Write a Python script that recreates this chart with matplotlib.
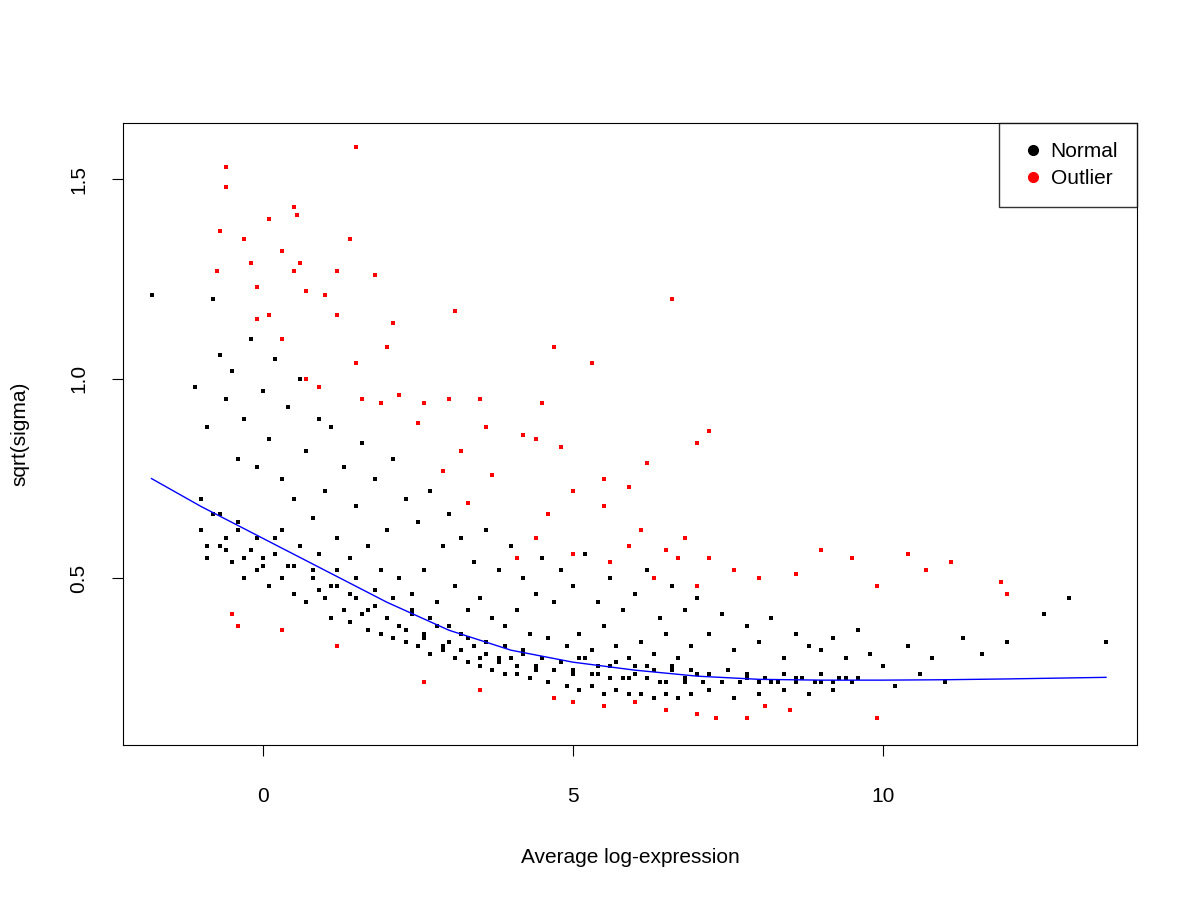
import matplotlib
matplotlib.use("Agg")
import matplotlib.pyplot as plt
from matplotlib.lines import Line2D

# trend
trend_x = [-1.8, -1.0, 0.0, 1.0, 2.0, 3.0, 4.0, 5.0, 6.0, 7.0, 8.0, 9.0, 10.0, 11.0, 12.0, 13.6]
trend_y = [0.75, 0.68, 0.60, 0.52, 0.44, 0.37, 0.32, 0.29, 0.27, 0.255, 0.247, 0.245, 0.245, 0.246, 0.248, 0.252]

# normal genes (hand-read sample of the black cloud)
normal_x = [
 -1.8,-1.1,-1.0,-0.9,-0.9,-0.8,-0.8,-0.7,-0.7,-0.6,-0.6,-0.5,-0.5,-0.4,-0.4,-0.3,-0.3,-0.2,-0.2,-0.1,-0.1,
 0.0,0.0,0.1,0.1,0.2,0.2,0.3,0.3,0.4,0.4,0.5,0.5,0.6,0.6,0.7,0.7,0.8,0.8,0.9,0.9,
 1.0,1.0,1.1,1.1,1.2,1.2,1.3,1.3,1.4,1.4,1.5,1.5,1.6,1.6,1.7,1.7,1.8,1.8,1.9,1.9,
 2.0,2.0,2.1,2.1,2.2,2.2,2.3,2.3,2.4,2.4,2.5,2.5,2.6,2.6,2.7,2.7,2.8,2.8,2.9,2.9,
 3.0,3.0,3.1,3.1,3.2,3.2,3.3,3.3,3.4,3.4,3.5,3.5,3.6,3.6,3.7,3.7,3.8,3.8,3.9,3.9,
 4.0,4.0,4.1,4.1,4.2,4.2,4.3,4.3,4.4,4.4,4.5,4.5,4.6,4.6,4.7,4.7,4.8,4.8,4.9,4.9,
 5.0,5.0,5.1,5.1,5.2,5.2,5.3,5.3,5.4,5.4,5.5,5.5,5.6,5.6,5.7,5.7,5.8,5.8,5.9,5.9,
 6.0,6.0,6.1,6.1,6.2,6.2,6.3,6.3,6.4,6.4,6.5,6.5,6.6,6.6,6.7,6.7,6.8,6.8,6.9,6.9,
 7.0,7.0,7.2,7.2,7.4,7.4,7.6,7.6,7.8,7.8,8.0,8.0,8.2,8.2,8.4,8.4,8.6,8.6,8.8,8.8,
 9.0,9.0,9.2,9.2,9.4,9.4,9.6,9.8,10.0,10.2,10.4,10.6,10.8,11.0,11.3,11.6,12.0,12.6,13.0,13.6,
 -1.0,-0.7,-0.4,-0.1,0.2,0.5,0.8,1.1,1.4,1.7,2.0,2.3,2.6,2.9,3.2,3.5,3.8,4.1,4.4,4.7,
 5.0,5.3,5.6,5.9,6.2,6.5,6.8,7.1,7.4,7.7,8.0,8.3,8.6,8.9,9.2,9.5,
 -0.9,-0.6,-0.3,0.0,0.3,0.6,0.9,1.2,1.5,1.8,2.1,2.4,2.7,3.0,3.3,3.6,3.9,4.2,4.5,4.8,
 5.1,5.4,5.7,6.0,6.3,6.6,6.9,7.2,7.5,7.8,8.1,8.4,8.7,9.0,9.3,9.6,
]
normal_y = [
 1.21,0.98,0.62,0.88,0.55,1.20,0.66,1.06,0.58,0.95,0.60,1.02,0.54,0.80,0.62,0.90,0.50,1.10,0.57,0.78,0.52,
 0.97,0.55,0.85,0.48,1.05,0.60,0.75,0.50,0.93,0.53,0.70,0.46,1.00,0.58,0.82,0.44,0.65,0.50,0.90,0.47,
 0.72,0.45,0.88,0.40,0.60,0.48,0.78,0.42,0.55,0.39,0.68,0.45,0.84,0.41,0.58,0.37,0.75,0.43,0.52,0.36,
 0.62,0.40,0.80,0.35,0.50,0.38,0.70,0.34,0.46,0.41,0.64,0.33,0.52,0.36,0.72,0.31,0.44,0.38,0.58,0.32,
 0.66,0.34,0.48,0.30,0.60,0.36,0.42,0.29,0.54,0.33,0.45,0.28,0.62,0.31,0.40,0.27,0.52,0.30,0.38,0.26,
 0.58,0.30,0.42,0.26,0.50,0.32,0.36,0.25,0.46,0.28,0.55,0.30,0.35,0.24,0.44,0.27,0.52,0.29,0.33,0.23,
 0.48,0.27,0.36,0.22,0.56,0.30,0.32,0.23,0.44,0.26,0.38,0.21,0.50,0.28,0.33,0.22,0.42,0.25,0.30,0.21,
 0.46,0.26,0.34,0.21,0.52,0.28,0.31,0.20,0.40,0.24,0.36,0.21,0.48,0.27,0.30,0.20,0.42,0.25,0.33,0.21,
 0.45,0.26,0.36,0.22,0.41,0.24,0.32,0.20,0.38,0.25,0.34,0.21,0.40,0.24,0.30,0.22,0.36,0.25,0.33,0.21,
 0.32,0.24,0.35,0.22,0.30,0.25,0.37,0.31,0.28,0.23,0.33,0.26,0.30,0.24,0.35,0.31,0.34,0.41,0.45,0.34,
 0.70,0.66,0.64,0.60,0.56,0.53,0.52,0.48,0.46,0.42,0.40,0.37,0.35,0.33,0.32,0.30,0.29,0.28,0.27,0.27,
 0.26,0.26,0.25,0.25,0.25,0.24,0.24,0.24,0.24,0.24,0.24,0.24,0.24,0.24,0.24,0.24,
 0.58,0.57,0.55,0.53,0.62,0.58,0.56,0.52,0.50,0.47,0.45,0.42,0.40,0.38,0.35,0.34,0.33,0.31,0.30,0.29,
 0.30,0.28,0.29,0.28,0.27,0.28,0.27,0.26,0.27,0.26,0.25,0.26,0.25,0.26,0.25,0.25,
]

# outliers (red)
outlier_x = [-0.6,-0.6,-0.7,-0.75,-0.3,-0.2,-0.1,0.1,0.3,0.5,0.55,0.6,0.5,0.7,1.0,1.2,1.2,1.4,1.5,1.8,2.1,2.0,
 3.1,4.7,5.3,6.6,0.3,0.1,-0.1,0.7,0.9,1.5,1.6,1.9,2.2,2.6,3.0,3.5,3.6,4.2,4.4,4.8,4.5,2.5,3.2,2.9,3.7,
 6.2,7.2,7.0,5.5,5.9,5.0,3.3,4.6,5.5,6.1,6.8,5.9,6.5,6.7,7.2,5.6,5.0,4.1,4.4,7.6,8.0,8.6,9.0,9.5,10.4,
 10.7,11.1,11.9,12.0,9.9,7.0,6.3,-0.5,-0.4,0.3,1.2,2.6,3.5,5.0,5.5,6.5,7.0,7.3,7.8,8.5,9.9,4.7,6.0,8.1]
outlier_y = [1.53,1.48,1.37,1.27,1.35,1.29,1.23,1.40,1.32,1.43,1.41,1.29,1.27,1.22,1.21,1.16,1.27,1.35,1.58,1.26,1.14,1.08,
 1.17,1.08,1.04,1.20,1.10,1.16,1.15,1.00,0.98,1.04,0.95,0.94,0.96,0.94,0.95,0.95,0.88,0.86,0.85,0.83,0.94,0.89,0.82,0.77,0.76,
 0.79,0.87,0.84,0.75,0.73,0.72,0.69,0.66,0.68,0.62,0.60,0.58,0.57,0.55,0.55,0.54,0.56,0.55,0.60,0.52,0.50,0.51,0.57,0.55,0.56,
 0.52,0.54,0.49,0.46,0.48,0.48,0.50,0.41,0.38,0.37,0.33,0.24,0.22,0.19,0.18,0.17,0.16,0.15,0.15,0.17,0.15,0.20,0.19,0.18]

plt.rcParams['font.family'] = ['Liberation Sans', 'DejaVu Sans']
fig = plt.figure(figsize=(12, 9), dpi=100, facecolor='white')
ax = fig.add_axes([0.1025, 0.172, 0.845, 0.691])

ax.scatter(normal_x, normal_y, s=5, c='black', marker='s', linewidths=0)
ax.scatter(outlier_x, outlier_y, s=5, c='red', marker='s', linewidths=0)
ax.plot(trend_x, trend_y, color='blue', lw=1)

ax.set_xlim(-2.26, 14.1)
ax.set_ylim(0.082, 1.64)
ax.set_xticks([0, 5, 10])
ax.set_yticks([0.5, 1.0, 1.5])
ax.tick_params(axis='x', labelsize=15, length=8, pad=22)
ax.tick_params(axis='y', labelsize=15, length=8, pad=17)
for lab in ax.get_yticklabels():
	lab.set_rotation(90)
	lab.set_va('center')
ax.set_xlabel("Average log-expression", fontsize=15, labelpad=30)
ax.set_ylabel("sqrt(sigma)", fontsize=15, labelpad=29)

handles = [Line2D([], [], marker='o', ls='', color='black', markersize=7, label='Normal'),
		   Line2D([], [], marker='o', ls='', color='red', markersize=7, label='Outlier')]
leg = ax.legend(handles=handles, loc='upper right', fontsize=15, frameon=True, fancybox=False,
				borderaxespad=0, handletextpad=0.1, handlelength=1.5, edgecolor='black',
				borderpad=0.9, labelspacing=0.4)
leg.get_frame().set_linewidth(1)

fig.savefig("out.png", dpi=100)
